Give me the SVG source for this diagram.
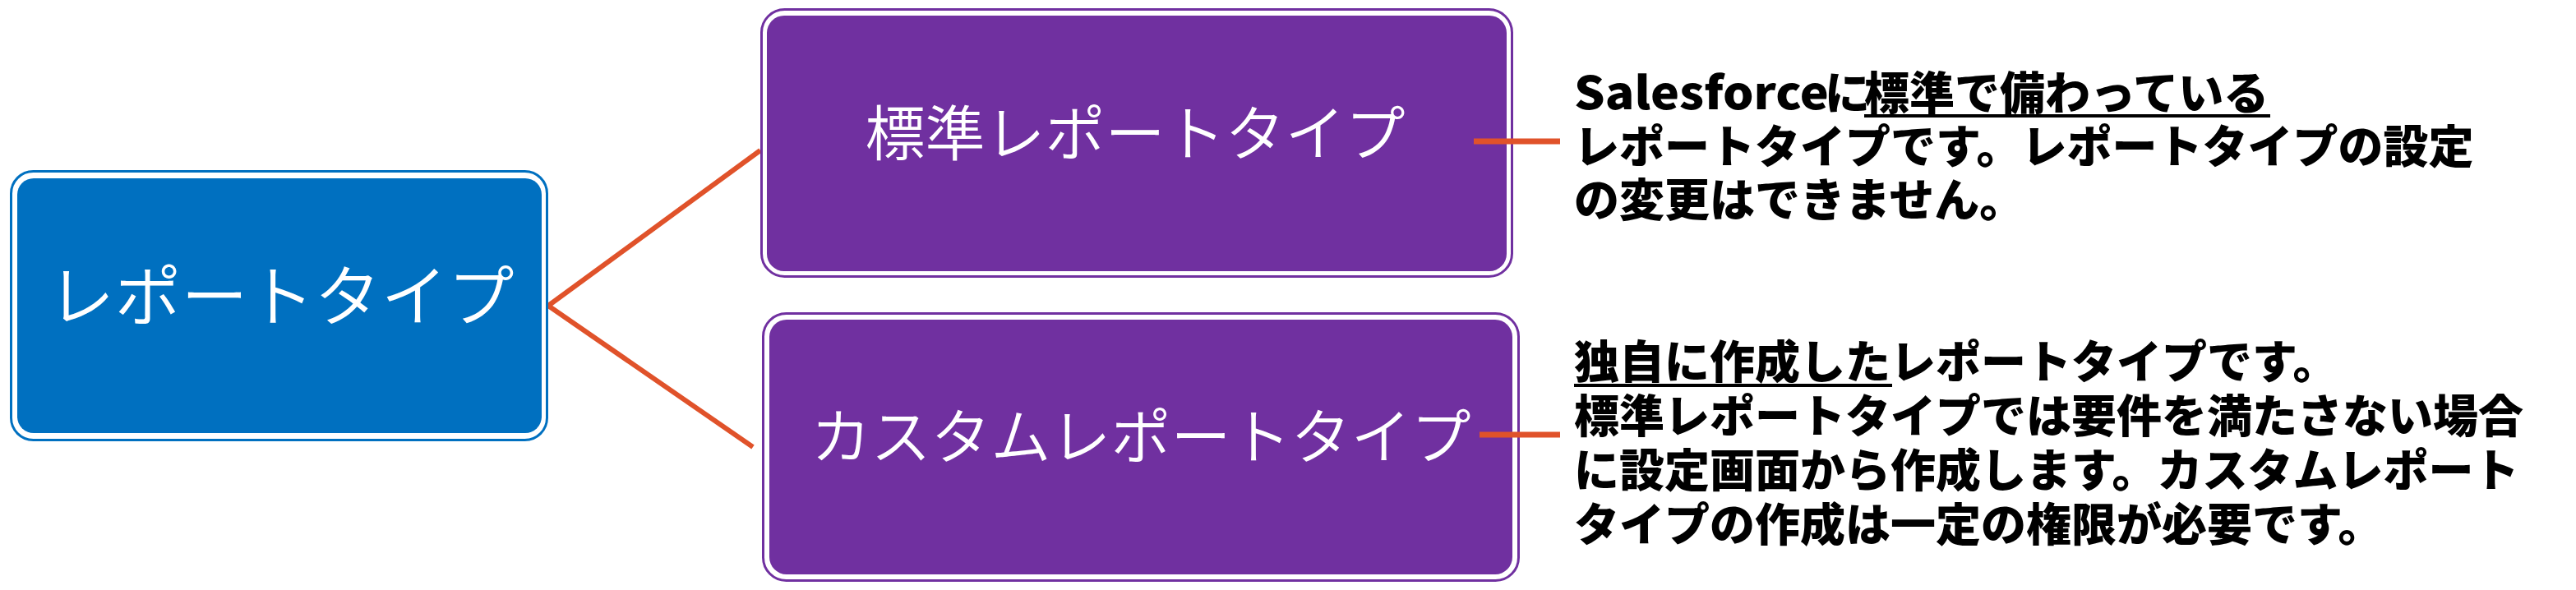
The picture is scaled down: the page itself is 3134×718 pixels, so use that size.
<svg xmlns="http://www.w3.org/2000/svg" width="3134" height="718" viewBox="0 0 3134 718">
<style>
.bg{fill:#FFFFFF}
.outer-b{fill:none;stroke:#0070C0;stroke-width:3}
.outer-p{fill:none;stroke:#7030A0;stroke-width:3}
.fill-b{fill:#0070C0}
.fill-p{fill:#7030A0}
.title{font-family:"Noto Sans CJK JP","Noto Sans",sans-serif;font-weight:350;fill:#FFFFFF;text-anchor:middle}
.conn{fill:none;stroke:#E0522A;stroke-width:6;stroke-linecap:butt}
.desc{font-family:"Noto Sans CJK JP","Noto Sans",sans-serif;font-weight:900;font-size:55px;fill:#000000}
.ul{stroke:#000000;stroke-width:4}
</style>
<rect class="bg" x="0" y="0" width="3134" height="718"/>
<g id="connectors">
<path class="conn" d="M667,372 L925,183"/>
<path class="conn" d="M667,372 L916,544"/>
</g>
<g id="node-report-type">
<rect class="outer-b" x="13.5" y="208.5" width="652" height="327" rx="27"/>
<rect class="fill-b" x="21" y="217" width="638" height="310" rx="20"/>
<text class="title" x="342" y="390" font-size="81">レポートタイプ</text>
</g>
<g id="node-standard">
<rect class="outer-p" x="926.5" y="11.5" width="913" height="325" rx="28"/>
<rect class="fill-p" x="933" y="19" width="900" height="311" rx="21"/>
<text class="title" x="1381" y="189" font-size="73">標準レポートタイプ</text>
</g>
<g id="node-custom">
<rect class="outer-p" x="928.5" y="381.5" width="919" height="325" rx="28"/>
<rect class="fill-p" x="936" y="389" width="904" height="310" rx="21"/>
<text class="title" x="1388" y="558" font-size="73">カスタムレポートタイプ</text>
</g>
<g id="side-connectors">
<path class="conn" d="M1793,172 H1898" style="stroke-width:7"/>
<path class="conn" d="M1800,529 H1898" style="stroke-width:7"/>
</g>
<g id="desc-standard">
<text class="desc" x="1915" y="133"><tspan textLength="310" lengthAdjust="spacingAndGlyphs">Salesforce</tspan><tspan x="2220">に</tspan><tspan x="2268">標準で備わっている</tspan></text>
<line class="ul" x1="2268" y1="141" x2="2762" y2="141"/>
<text class="desc" x="1915" y="198">レポートタイプです。レポートタイプの設定</text>
<text class="desc" x="1915" y="263">の変更はできません。</text>
</g>
<g id="desc-custom">
<text class="desc" x="1915" y="460">独自に作成したレポートタイプです。</text>
<line class="ul" x1="1915" y1="469" x2="2302" y2="469"/>
<text class="desc" x="1915" y="526">標準レポートタイプでは要件を満たさない場合</text>
<text class="desc" x="1915" y="592">に設定画面から作成します。カスタムレポート</text>
<text class="desc" x="1915" y="658">タイプの作成は一定の権限が必要です。</text>
</g>
</svg>
